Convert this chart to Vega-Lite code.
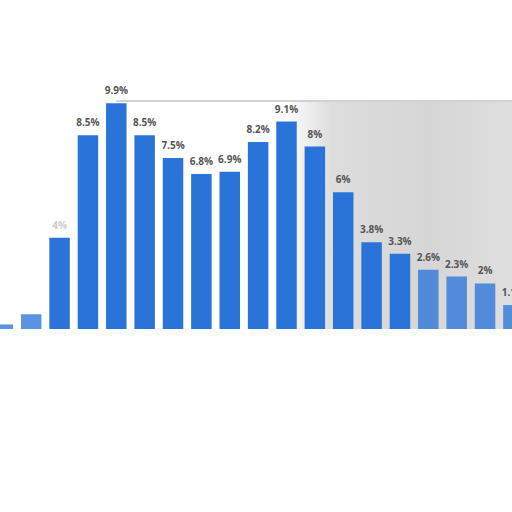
{
  "$schema": "https://vega.github.io/schema/vega-lite/v6.json",
  "width": 512,
  "height": 329,
  "padding": 0,
  "autosize": "none",
  "background": "white",
  "datasets": {
    "shares": [
      {"i": 1, "value": 0.2, "label": ""},
      {"i": 2, "value": 0.65, "label": ""},
      {"i": 3, "value": 4.0, "label": "4%"},
      {"i": 4, "value": 8.5, "label": "8.5%"},
      {"i": 5, "value": 9.9, "label": "9.9%"},
      {"i": 6, "value": 8.5, "label": "8.5%"},
      {"i": 7, "value": 7.5, "label": "7.5%"},
      {"i": 8, "value": 6.8, "label": "6.8%"},
      {"i": 9, "value": 6.9, "label": "6.9%"},
      {"i": 10, "value": 8.2, "label": "8.2%"},
      {"i": 11, "value": 9.1, "label": "9.1%"},
      {"i": 12, "value": 8.0, "label": "8%"},
      {"i": 13, "value": 6.0, "label": "6%"},
      {"i": 14, "value": 3.8, "label": "3.8%"},
      {"i": 15, "value": 3.3, "label": "3.3%"},
      {"i": 16, "value": 2.6, "label": "2.6%"},
      {"i": 17, "value": 2.3, "label": "2.3%"},
      {"i": 18, "value": 2.0, "label": "2%"},
      {"i": 19, "value": 1.05, "label": "1.1%"}
    ],
    "shade": [
      {"from": 10.9, "to": 19.5, "low": 0, "high": 10}
    ],
    "topline": [
      {"from": 5, "to": 19.5, "level": 10}
    ]
  },
  "layer": [
    {
      "data": {"name": "shade"},
      "mark": {
        "type": "rect",
        "clip": true,
        "color": {
          "gradient": "linear",
          "x1": 0, "y1": 0, "x2": 1, "y2": 0,
          "stops": [
            {"offset": 0, "color": "#ffffff"},
            {"offset": 0.2, "color": "#dddddd"},
            {"offset": 0.6, "color": "#d6d6d6"},
            {"offset": 1, "color": "#e0e0e0"}
          ]
        }
      },
      "encoding": {
        "x": {"field": "from", "type": "quantitative", "scale": {"domain": [0.9, 18.95], "nice": false, "zero": false, "padding": 0}, "axis": null},
        "x2": {"field": "to"},
        "y": {"field": "low", "type": "quantitative", "scale": {"domain": [0, 14.43], "nice": false}, "axis": null},
        "y2": {"field": "high"}
      }
    },
    {
      "data": {"name": "topline"},
      "mark": {"type": "rule", "color": "#d2d2d2", "strokeWidth": 2, "clip": true},
      "encoding": {
        "x": {"field": "from", "type": "quantitative", "scale": {"domain": [0.9, 18.95], "nice": false, "zero": false, "padding": 0}},
        "x2": {"field": "to"},
        "y": {"field": "level", "type": "quantitative", "scale": {"domain": [0, 14.43], "nice": false}}
      }
    },
    {
      "data": {"name": "shares"},
      "mark": {"type": "bar", "width": 20.5, "color": "#2a74d9", "clip": true},
      "encoding": {
        "x": {
          "field": "i", "type": "quantitative",
          "scale": {"domain": [0.9, 18.95], "nice": false, "zero": false, "padding": 0},
          "axis": {"labels": false, "ticks": false, "grid": false, "title": null, "domain": true, "domainColor": "#333333", "domainWidth": 1.5}
        },
        "y": {
          "field": "value", "type": "quantitative",
          "scale": {"domain": [0, 14.43], "nice": false},
          "axis": {"labels": false, "ticks": false, "domain": false, "title": null, "values": [2.5, 5, 7.5], "gridColor": "#c8c8c8", "gridDash": [2, 2]}
        },
        "opacity": {"condition": {"test": "datum.i < 3 || datum.i > 15", "value": 0.78}, "value": 1}
      }
    },
    {
      "data": {"name": "shares"},
      "mark": {"type": "text", "baseline": "bottom", "dy": -7, "fontSize": 10, "fontWeight": "bold", "font": "Open Sans", "color": "#555555", "clip": true},
      "encoding": {
        "x": {"field": "i", "type": "quantitative", "scale": {"domain": [0.9, 18.95], "nice": false, "zero": false, "padding": 0}},
        "y": {"field": "value", "type": "quantitative", "scale": {"domain": [0, 14.43], "nice": false}},
        "text": {"field": "label"},
        "opacity": {"condition": {"test": "datum.i == 3", "value": 0.3}, "value": 1}
      }
    }
  ],
  "config": {"view": {"stroke": null}}
}
